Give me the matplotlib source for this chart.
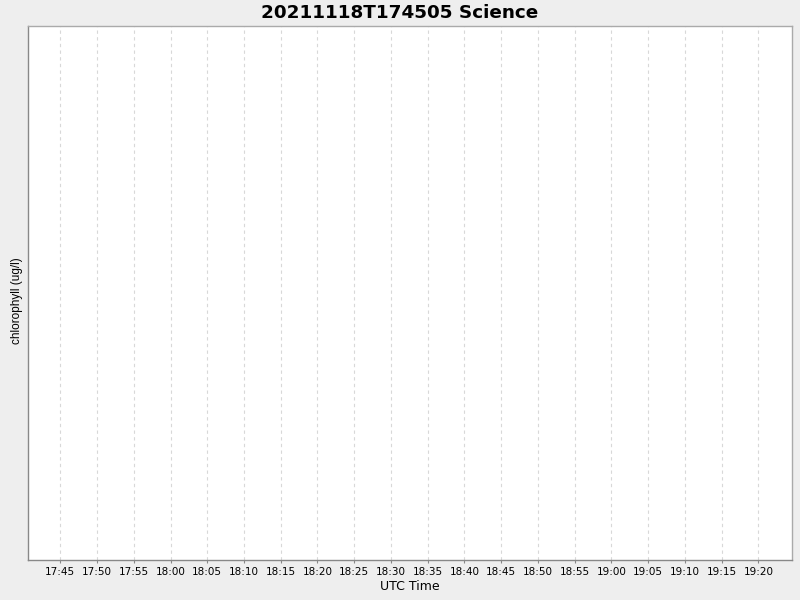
import datetime as dt
import matplotlib
matplotlib.use('Agg')
import matplotlib.pyplot as plt
import matplotlib.dates as mdates

# Chart data (the reference plot has no data points)
title = '20211118T174505 Science'
x_label = 'UTC Time'
y_label = 'chlorophyll (ug/l)'
day = dt.datetime(2021, 11, 18)
x_start = day + dt.timedelta(hours=17, minutes=40, seconds=32)
x_end = day + dt.timedelta(hours=19, minutes=24, seconds=35)
times = []
chlorophyll = []

bg = '#eeeeee'
fig = plt.figure(figsize=(8, 6), dpi=100, facecolor=bg)
ax = fig.add_axes([27.5 / 800, 1 - 560 / 600, (792 - 27.5) / 800, (560 - 26) / 600])
ax.set_facecolor('white')

ax.plot(times, chlorophyll, color='red')

ax.set_xlim(x_start, x_end)
ax.xaxis.set_major_locator(mdates.MinuteLocator(byminute=range(0, 60, 5)))
ax.xaxis.set_major_formatter(mdates.DateFormatter('%H:%M'))
ax.tick_params(axis='x', labelsize=7.5, length=2, width=0.8, color='#888888', pad=3)
ax.set_yticks([])

ax.grid(axis='x', color='#d8d8d8', linestyle=(0, (3, 3)), linewidth=0.8)

for side in ['left', 'bottom']:
    ax.spines[side].set_color('#888888')
for side in ['top', 'right']:
    ax.spines[side].set_color('#aaaaaa')
for s in ax.spines.values():
    s.set_linewidth(1)

ax.set_xlabel(x_label, fontsize=9, labelpad=2)
ax.set_ylabel(y_label, fontsize=8.5, family='Liberation Sans')
ax.yaxis.set_label_coords(-0.006, 0.485)
fig.text(0.5, 1 - 13 / 600, title, fontsize=13.2, fontweight='bold',
         ha='center', va='center')

fig.savefig('out.png', dpi=100, facecolor=bg)
